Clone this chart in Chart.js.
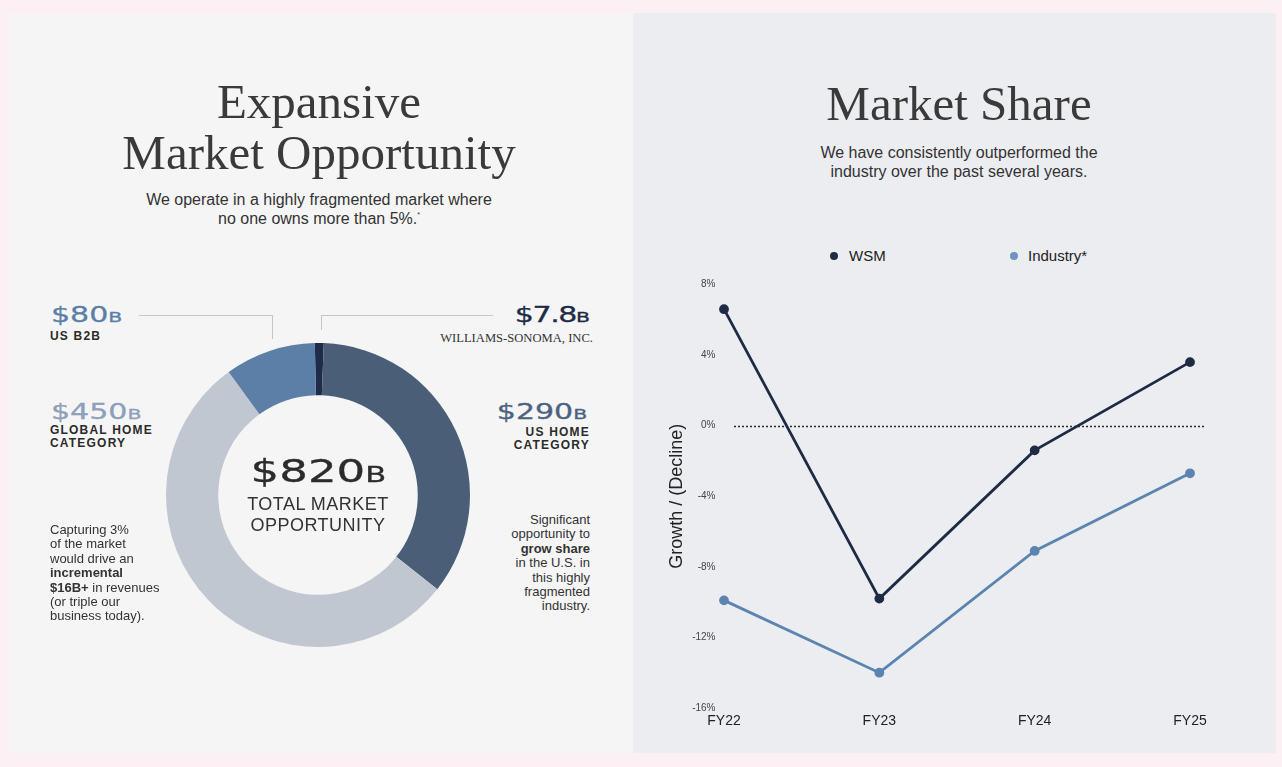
<!DOCTYPE html>
<html>
<head>
<meta charset="utf-8">
<script src="https://cdn.jsdelivr.net/npm/chart.js@4.4.0/dist/chart.umd.min.js"></script>
<style>
  html, body { margin: 0; padding: 0; }
  body { width: 1282px; height: 767px; background: #fdf0f4; position: relative; overflow: hidden;
         font-family: "Liberation Sans", Arial, sans-serif; color: #333; }
  .abs { position: absolute; white-space: nowrap; }
  .panel { position: absolute; }
  .title { font-family: "Liberation Serif", serif; font-size: 49px; line-height: 51px; color: #3a3a3a; text-align: center; }
  .sub { font-size: 16px; line-height: 19px; color: #333; text-align: center; }
  .sup { font-size: 7px; line-height: 0; position: relative; top: -7px; }
  .big { font-family: "DejaVu Sans", sans-serif; font-size: 21px; line-height: 21px; display: inline-block;
         transform: scaleX(1.43); -webkit-text-stroke: 0.3px; }
  .big small { font-size: 0.68em; }
  .cap { font-weight: bold; font-size: 12px; line-height: 13.3px; letter-spacing: 1.2px; color: #2b2b2b; }
  .para { font-size: 13px; line-height: 14.4px; color: #333; }
  .line { position: absolute; background: #c6c6c6; }
  .dot { position: absolute; width: 8px; height: 8px; border-radius: 50%; }
  .leg { font-size: 15px; line-height: 18px; color: #222; }
</style>
</head>
<body>
<div class="panel" style="left:8px; top:13px; width:625px; height:740px; background:#f5f5f5;"></div>
<div class="panel" style="left:633px; top:13px; width:643px; height:740px; background:#ecedf1;"></div>

<!-- left side -->
<div class="abs title" style="left:8px; width:622px; top:76px;">Expansive<br>Market Opportunity</div>
<div class="abs sub" style="left:8px; width:622px; top:189.5px;">We operate in a highly fragmented market where<br>no one owns more than 5%.<span class="sup">*</span></div>

<div class="line" style="left:139px; top:315px; width:133px; height:1px;"></div>
<div class="line" style="left:272px; top:315px; width:1px; height:24px;"></div>
<div class="line" style="left:321px; top:315px; width:172px; height:1px;"></div>
<div class="line" style="left:321px; top:315px; width:1px; height:15px;"></div>

<div class="abs" style="left:51px; top:305px;"><span class="big" style="color:#5b7fa6; transform-origin:left;">$80<small>B</small></span></div>
<div class="abs cap" style="left:50px; top:330px;">US B2B</div>

<div class="abs" style="right:693px; top:305px; text-align:right;"><span class="big" style="color:#1f2b45; transform-origin:right; letter-spacing:-1px;">$7.8<small>B</small></span></div>
<div class="abs" style="right:689px; top:331px; font-family:'Liberation Serif',serif; font-size:12.6px; line-height:14px; color:#333;">WILLIAMS-SONOMA, INC.</div>

<div class="abs" style="left:51px; top:402px;"><span class="big" style="color:#8d9fb9; transform-origin:left;">$450<small>B</small></span></div>
<div class="abs cap" style="left:50px; top:424px;">GLOBAL HOME<br>CATEGORY</div>

<div class="abs" style="right:695px; top:402px;"><span class="big" style="color:#4d6280; transform-origin:right;">$290<small>B</small></span></div>
<div class="abs cap" style="right:692px; top:426px; text-align:right;">US HOME<br>CATEGORY</div>

<canvas id="donut" width="320" height="320" style="position:absolute; left:158px; top:335px;"></canvas>

<div class="abs" style="left:158px; width:320px; top:456px; text-align:center;"><span class="big" style="font-size:31.5px; line-height:31.5px; color:#2b2b2b; transform-origin:center;">$820<small>B</small></span></div>
<div class="abs" style="left:158px; width:320px; top:494px; text-align:center; font-size:18px; line-height:21px; letter-spacing:0.5px; color:#333;">TOTAL MARKET<br>OPPORTUNITY</div>

<div class="abs para" style="left:50px; top:523px;">Capturing 3%<br>of the market<br>would drive an<br><b>incremental</b><br><b>$16B+</b> in revenues<br>(or triple our<br>business today).</div>
<div class="abs para" style="right:692px; top:513px; text-align:right;">Significant<br>opportunity to<br><b>grow share</b><br>in the U.S. in<br>this highly<br>fragmented<br>industry.</div>

<!-- right side -->
<div class="abs title" style="left:633px; width:652px; top:78px;">Market Share</div>
<div class="abs sub" style="left:633px; width:652px; top:143px;">We have consistently outperformed the<br>industry over the past several years.</div>

<div class="dot" style="left:830px; top:252px; background:#1f2b45;"></div>
<div class="abs leg" style="left:849px; top:247px;">WSM</div>
<div class="dot" style="left:1010px; top:252px; background:#6d95c2;"></div>
<div class="abs leg" style="left:1028px; top:247px;">Industry*</div>

<canvas id="share" width="580" height="470" style="position:absolute; left:660px; top:270px;"></canvas>

<script>
// donut data ($B)
const segmentos = ['Williams-Sonoma, Inc.', 'US Home Category', 'Global Home Category', 'US B2B'];
const valoresMercado = [7.8, 290, 450, 80];
const coloresMercado = ['#1e2b4a', '#4a5e77', '#c1c7d1', '#5b7fa6'];

// market share data (% growth)
const anios = ['FY22', 'FY23', 'FY24', 'FY25'];
const wsm = [6.6, -9.8, -1.4, 3.6];
const industria = [-9.9, -14.0, -7.1, -2.7];
const ticksY = [-16, -12, -8, -4, 0, 4, 8];

new Chart(document.getElementById('donut'), {
    type: 'doughnut',
    data: {
        labels: segmentos,
        datasets: [{
            data: valoresMercado,
            backgroundColor: coloresMercado,
            borderWidth: 0
        }]
    },
    options: {
        responsive: false,
        animation: false,
        rotation: -1.2,
        radius: 152,
        cutout: 105,
        plugins: {
            legend: { display: false },
            tooltip: { enabled: false }
        }
    }
});

// linea punteada en 0%
const lineaCero = {
    id: 'lineaCero',
    beforeDatasetsDraw(chart) {
        const { ctx, chartArea, scales } = chart;
        const y = Math.round(scales.y.getPixelForValue(0)) + 0.5;
        ctx.save();
        ctx.strokeStyle = '#2a2a2a';
        ctx.lineWidth = 1.5;
        ctx.setLineDash([2, 2]);
        ctx.beginPath();
        ctx.moveTo(chartArea.left + 10, y);
        ctx.lineTo(chartArea.right + 15, y);
        ctx.stroke();
        ctx.restore();
    }
};

new Chart(document.getElementById('share'), {
    type: 'line',
    data: {
        labels: anios,
        datasets: [
            {
                label: 'WSM',
                data: wsm,
                borderColor: '#1f2b45',
                backgroundColor: '#1f2b45',
                borderWidth: 2.8,
                pointRadius: 3.5,
                tension: 0
            },
            {
                label: 'Industry*',
                data: industria,
                borderColor: '#5b84b1',
                backgroundColor: '#5b84b1',
                borderWidth: 2.8,
                pointRadius: 3.5,
                tension: 0
            }
        ]
    },
    options: {
        responsive: false,
        animation: false,
        layout: { padding: { left: 2, top: 14, right: 50, bottom: 0 } },
        plugins: {
            legend: { display: false },
            tooltip: { enabled: false }
        },
        scales: {
            x: {
                offset: false,
                grid: { display: false, drawTicks: false },
                border: { display: false },
                ticks: {
                    padding: 5,
                    maxRotation: 0,
                    color: '#222',
                    font: { family: 'Liberation Sans', size: 14 }
                },
                afterFit(scale) { scale.height = 32; }
            },
            y: {
                min: -16,
                max: 8,
                grid: { display: false, drawTicks: false },
                border: { display: false },
                afterBuildTicks(scale) { scale.ticks = ticksY.map(v => ({ value: v })); },
                ticks: {
                    padding: 8.5,
                    color: '#444',
                    font: { family: 'Liberation Sans', size: 10 },
                    callback: v => v + '%'
                },
                title: {
                    display: true,
                    text: 'Growth / (Decline)',
                    color: '#222',
                    font: { family: 'Liberation Sans', size: 18 }
                },
                afterFit(scale) { scale.width = 62; }
            }
        }
    },
    plugins: [lineaCero]
});
</script>
</body>
</html>
